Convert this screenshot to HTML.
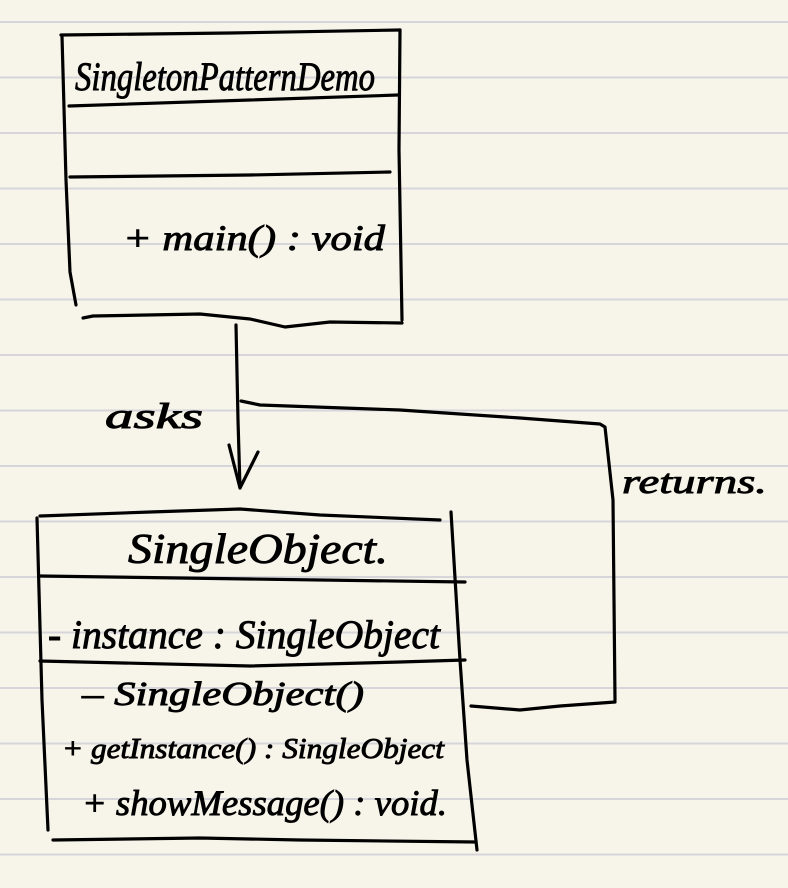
<!DOCTYPE html>
<html><head><meta charset="utf-8"><style>
html,body{margin:0;padding:0;background:#f7f5ea;}
svg{display:block}
text{font-family:"Liberation Serif",serif;font-style:italic;fill:#000;stroke:#000;stroke-width:0.9;}
</style></head><body>
<svg width="788" height="888" viewBox="0 0 788 888" xmlns="http://www.w3.org/2000/svg">
<rect width="788" height="888" fill="#f7f5ea"/>
<g stroke="#d5d5da" stroke-width="2">
<line x1="0" y1="22" x2="788" y2="22"/><line x1="0" y1="77.5" x2="788" y2="77.5"/>
<line x1="0" y1="133" x2="788" y2="133"/><line x1="0" y1="188.5" x2="788" y2="188.5"/>
<line x1="0" y1="244" x2="788" y2="244"/><line x1="0" y1="299.5" x2="788" y2="299.5"/>
<line x1="0" y1="355" x2="788" y2="355"/><line x1="0" y1="410.5" x2="788" y2="410.5"/>
<line x1="0" y1="466" x2="788" y2="466"/><line x1="0" y1="521.5" x2="788" y2="521.5"/>
<line x1="0" y1="577" x2="788" y2="577"/><line x1="0" y1="632.5" x2="788" y2="632.5"/>
<line x1="0" y1="688" x2="788" y2="688"/><line x1="0" y1="743.5" x2="788" y2="743.5"/>
<line x1="0" y1="799" x2="788" y2="799"/><line x1="0" y1="854.5" x2="788" y2="854.5"/>
</g>
<g fill="none" stroke="#000" stroke-width="3.2" stroke-linecap="round" stroke-linejoin="round">
<polyline points="61,35 230,33 400,30"/>
<polyline points="62,36 66,180 70,272 76,305"/>
<polyline points="400,30 399,150 402,320"/>
<polyline points="69,106 250,100 398,95"/>
<polyline points="70,177 250,175 390,172"/>
<polyline points="83,318 93,316 200,314 250,319 285,327 330,322 402,323"/>
<polyline points="236,325 238,420 240,488"/>
<polyline points="229,445 240,488 258,452"/>
<polyline points="241,401 260,405 400,410 520,418 600,424 605,427 613,500 615,700"/>
<polyline points="615,702 560,706 520,710 471,706"/>
<polyline points="40,516 150,512 240,509 320,515 440,520"/>
<polyline points="37,518 42,700 48,830"/>
<polyline points="451,512 460,660 467,760 477,850"/>
<polyline points="40,576 250,579 465,582"/>
<polyline points="40,661 250,666 400,662 465,660"/>
<polyline points="53,840 200,838 300,840 476,842"/>
</g>
<text x="75" y="90" font-size="40" textLength="300" lengthAdjust="spacingAndGlyphs">SingletonPatternDemo</text>
<text x="123" y="250" font-size="36" textLength="262" lengthAdjust="spacingAndGlyphs">+ main() : void</text>
<text x="105" y="428" font-size="36" textLength="98" lengthAdjust="spacingAndGlyphs">asks</text>
<text x="622" y="493" font-size="34" textLength="145" lengthAdjust="spacingAndGlyphs">returns.</text>
<text x="128" y="563" font-size="42" textLength="260" lengthAdjust="spacingAndGlyphs">SingleObject.</text>
<text x="48" y="648" font-size="40" textLength="392" lengthAdjust="spacingAndGlyphs">- instance : SingleObject</text>
<text x="82" y="705" font-size="34" textLength="282" lengthAdjust="spacingAndGlyphs">–  SingleObject()</text>
<text x="62" y="758" font-size="28" textLength="382" lengthAdjust="spacingAndGlyphs">+ getInstance() : SingleObject</text>
<text x="82" y="815" font-size="36" textLength="365" lengthAdjust="spacingAndGlyphs">+ showMessage() : void.</text>
</svg>
</body></html>
